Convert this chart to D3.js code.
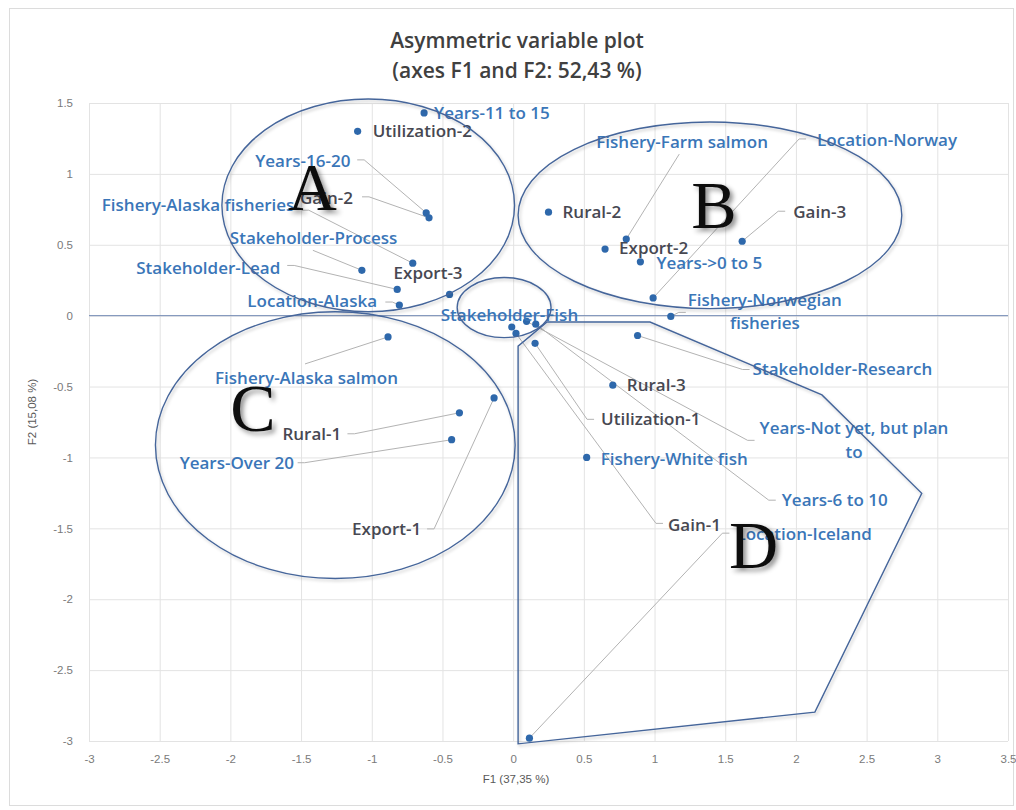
<!DOCTYPE html>
<html>
<head>
<meta charset="utf-8">
<script src="https://cdn.jsdelivr.net/npm/d3@7"></script>
<style>
  html, body { margin: 0; padding: 0; background: #ffffff; }
  svg { display: block; }
</style>
</head>
<body>
<svg id="chart" width="1016" height="810"></svg>
<script>
// Modalities of the asymmetric variable plot
const categories = [
  "Years-11 to 15", "Utilization-2", "Years-16-20", "Gain-2",
  "Fishery-Alaska fisheries", "Stakeholder-Process", "Stakeholder-Lead",
  "Location-Alaska", "Export-3", "Stakeholder-Fish", "Utilization-1",
  "Years-Not yet, but plan to", "Years-6 to 10", "Gain-1", "Rural-3",
  "Fishery-White fish", "Stakeholder-Research", "Fishery-Norwegian fisheries",
  "Location-Norway", "Fishery-Farm salmon", "Export-2", "Years->0 to 5",
  "Rural-2", "Gain-3", "Location-Iceland", "Fishery-Alaska salmon",
  "Export-1", "Rural-1", "Years-Over 20"
];

// Coordinates on F1
const f1 = [
  -0.63, -1.10, -0.615, -0.595,
  -0.71, -1.07, -0.82,
  -0.805, -0.45, -0.01, 0.155,
  0.095, 0.16, 0.02, 0.705,
  0.52, 0.88, 1.115,
  0.99, 0.80, 0.65, 0.90,
  0.25, 1.62, 0.115, -0.885,
  -0.135, -0.38, -0.435
];

// Coordinates on F2
const f2 = [
  1.43, 1.30, 0.725, 0.69,
  0.37, 0.32, 0.185,
  0.075, 0.15, -0.08, -0.195,
  -0.04, -0.06, -0.125, -0.49,
  -1.00, -0.14, -0.005,
  0.125, 0.54, 0.47, 0.38,
  0.73, 0.525, -2.98, -0.15,
  -0.58, -0.685, -0.875
];

const xTickValues = [-3, -2.5, -2, -1.5, -1, -0.5, 0, 0.5, 1, 1.5, 2, 2.5, 3, 3.5];
const yTickValues = [-3, -2.5, -2, -1.5, -1, -0.5, 0, 0.5, 1, 1.5];

const titleLines = ["Asymmetric variable plot", "(axes F1 and F2: 52,43 %)"];
const xAxisTitle = "F1 (37,35 %)";
const yAxisTitle = "F2 (15,08 %)";

// Variables whose labels are drawn in blue; the others are dark grey
const blueVariables = ["Years", "Fishery", "Stakeholder", "Location"];

// Label text wrapped over two lines
const wrappedLabels = {
  "Years-Not yet, but plan to": ["Years-Not yet, but plan", "to"],
  "Fishery-Norwegian fisheries": ["Fishery-Norwegian", "fisheries"]
};

// Label placement relative to its point (px): [textLeft, textMiddle, leaderX, leaderY]
const labelLayout = [
  [10, 0], [15, 0], [-171, -52, -69, -53], [-129, -20, -67, -21],
  [-311, -58, -111, -53], [-132, -32, -49, -20], [-261, -22, -110, -24],
  [-152, -4, -14, -3], [-56, -22], [-71, -12], [66, 76, 59, 76],
  [233, 119, 228, 119], [246, 176, 240, 176], [152, 191, 147, 190], [14, 0],
  [14, 1], [115, 33, 112, 34], [17, -5, 15, -4],
  [164, -158, 153, -159], [-30, -97, 53, -85], [14, -1], [16, 1],
  [14, 0], [51, -29, 43, -30], [207, -204, 200, -205], [-173, 41, -83, 27],
  [-142, 131, -67, 131], [-177, 21, -112, 21], [-272, 23, -154, 23]
];

// Group outlines (in F1/F2 units)
const groupEllipses = [
  { cx: -1.025, cy: 0.778, rx: 1.035, ry: 0.75 },
  { cx: 1.392, cy: 0.708, rx: 1.357, ry: 0.658 },
  { cx: -1.258, cy: -0.913, rx: 1.272, ry: 0.941 },
  { cx: -0.064, cy: 0.057, rx: 0.332, ry: 0.212 }
];
const groupPolygon = [
  [0.035, -3.02], [0.035, -0.215], [0.24, -0.045], [0.968, -0.045],
  [2.184, -0.559], [2.89, -1.253], [2.134, -2.796]
];
const groupLetters = [
  { t: "A", x: -1.42, y: 0.905 },
  { t: "B", x: 1.42, y: 0.78 },
  { t: "C", x: -1.84, y: -0.65 },
  { t: "D", x: 1.70, y: -1.62 }
];

const svg = d3.select("#chart");
const W = 1016, H = 810;
const x = d3.scaleLinear().domain([-3, 3.5]).range([89, 1008]);
const y = d3.scaleLinear().domain([-3, 1.5]).range([741, 103]);

const labelFont = "'Open Sans', 'Noto Sans', sans-serif";
const tickFont = "'Liberation Sans Narrow', 'Liberation Sans', sans-serif";
const blue = "#3a76b8";
const grey = "#474852";
const dotColour = "#2e68ab";
const shapeColour = "#45659a";

const defs = svg.append("defs");
defs.append("filter").attr("id", "shapeShadow")
  .attr("x", "-10%").attr("y", "-10%").attr("width", "120%").attr("height", "120%")
  .append("feDropShadow").attr("dx", 1.5).attr("dy", 2).attr("stdDeviation", 1.6)
  .attr("flood-color", "#000").attr("flood-opacity", 0.22);
defs.append("filter").attr("id", "letterShadow")
  .attr("x", "-30%").attr("y", "-30%").attr("width", "160%").attr("height", "160%")
  .append("feDropShadow").attr("dx", 3).attr("dy", 3).attr("stdDeviation", 2.5)
  .attr("flood-color", "#000").attr("flood-opacity", 0.45);

svg.append("rect").attr("x", 0).attr("y", 0).attr("width", W).attr("height", H).attr("fill", "#ffffff");
svg.append("rect").attr("x", 9.5).attr("y", 8.5).attr("width", 1004).attr("height", 797)
  .attr("fill", "none").attr("stroke", "#dcdcdc");

// Title
svg.append("g").selectAll("text").data(titleLines).join("text")
  .attr("x", 517).attr("y", (d, i) => 48 + i * 30)
  .attr("text-anchor", "middle")
  .attr("font-family", labelFont).attr("font-weight", 600).attr("font-size", 21)
  .attr("fill", "#404040")
  .text(d => d);

// Grid and tick labels
const plotTop = y(1.5), plotBottom = y(-3), plotLeft = x(-3), plotRight = x(3.5);
const gx = svg.append("g").attr("transform", `translate(0,${plotBottom})`)
  .call(d3.axisBottom(x).tickValues(xTickValues).tickSize(-(plotBottom - plotTop))
    .tickPadding(14).tickFormat(d => String(d)));
gx.select(".domain").remove();
gx.selectAll("line").attr("stroke", "#e3e3e3");
gx.selectAll("text").attr("font-family", tickFont).attr("font-size", 11.5).attr("fill", "#7a7a7a");

const gy = svg.append("g").attr("transform", `translate(${plotLeft},0)`)
  .call(d3.axisLeft(y).tickValues(yTickValues).tickSize(-(plotRight - plotLeft))
    .tickPadding(16).tickFormat(d => String(d)));
gy.select(".domain").remove();
gy.selectAll("line").attr("stroke", "#e3e3e3");
gy.selectAll("text").attr("font-family", tickFont).attr("font-size", 11.5).attr("fill", "#7a7a7a");

// Horizontal axis through F2 = 0
svg.append("line")
  .attr("x1", plotLeft).attr("x2", plotRight)
  .attr("y1", y(0)).attr("y2", y(0))
  .attr("stroke", "#7189b3").attr("stroke-width", 1);

// Axis titles
svg.append("text").attr("x", 516).attr("y", 783).attr("text-anchor", "middle")
  .attr("font-family", tickFont).attr("font-size", 11.5).attr("fill", "#595959").text(xAxisTitle);
svg.append("text").attr("transform", "translate(36,412) rotate(-90)").attr("text-anchor", "middle")
  .attr("font-family", tickFont).attr("font-size", 11.5).attr("fill", "#595959").text(yAxisTitle);

// Points, labels and leader lines
const pts = categories.map((name, i) => ({
  name,
  px: x(f1[i]),
  py: y(f2[i]),
  layout: labelLayout[i],
  colour: blueVariables.some(p => name.startsWith(p + "-")) ? blue : grey,
  lines: wrappedLabels[name] || [name]
}));

const leaderLayer = svg.append("g");
const dotLayer = svg.append("g");
const labelLayer = svg.append("g");

pts.forEach(p => {
  const [dx, dy] = p.layout;
  const g = labelLayer.append("g").attr("transform", `translate(${p.px + dx},${p.py + dy})`);
  const lh = 24;
  const texts = p.lines.map((ln, k) => g.append("text")
    .attr("y", (k - (p.lines.length - 1) / 2) * lh)
    .attr("dy", "0.36em")
    .attr("font-family", labelFont).attr("font-size", 17).attr("font-weight", 600)
    .attr("fill", p.colour)
    .text(ln));
  const widths = texts.map(t => t.node().getComputedTextLength());
  const wMax = d3.max(widths);
  if (p.lines.length > 1) texts.forEach((t, k) => t.attr("x", (wMax - widths[k]) / 2));
  p.boxLeft = p.px + dx;
  p.boxRight = p.px + dx + wMax;
});

pts.forEach(p => {
  const l = p.layout;
  if (l.length < 4) return;
  const ax = p.px + l[2], ay = p.py + l[3];
  const path = d3.path();
  path.moveTo(p.px, p.py);
  if (ax <= p.boxLeft) {
    path.lineTo(ax - 7, ay);
    path.lineTo(ax, ay);
  } else if (ax >= p.boxRight) {
    path.lineTo(ax + 7, ay);
    path.lineTo(ax, ay);
  } else {
    path.lineTo(ax, ay);
  }
  leaderLayer.append("path").attr("d", path.toString())
    .attr("fill", "none").attr("stroke", "#b3b3b3").attr("stroke-width", 1);
});

dotLayer.selectAll("circle").data(pts).join("circle")
  .attr("cx", d => d.px).attr("cy", d => d.py).attr("r", 3.6)
  .attr("fill", dotColour);

// Group outlines
const shapes = svg.append("g").attr("filter", "url(#shapeShadow)");
shapes.selectAll("ellipse").data(groupEllipses).join("ellipse")
  .attr("cx", d => x(d.cx)).attr("cy", d => y(d.cy))
  .attr("rx", d => x(d.cx + d.rx) - x(d.cx)).attr("ry", d => y(d.cy) - y(d.cy + d.ry))
  .attr("fill", "none").attr("stroke", shapeColour).attr("stroke-width", 1.4);
shapes.append("path")
  .attr("d", d3.line().x(d => x(d[0])).y(d => y(d[1]))(groupPolygon) + "Z")
  .attr("fill", "none").attr("stroke", shapeColour).attr("stroke-width", 1.4)
  .attr("stroke-linejoin", "miter");

// Group letters
svg.append("g").attr("filter", "url(#letterShadow)")
  .selectAll("text").data(groupLetters).join("text")
  .attr("x", d => x(d.x)).attr("y", d => y(d.y) + 23)
  .attr("text-anchor", "middle")
  .attr("font-family", "'Liberation Serif', 'DejaVu Serif', serif")
  .attr("font-size", 68).attr("fill", "#111111")
  .text(d => d.t);
</script>
</body>
</html>
